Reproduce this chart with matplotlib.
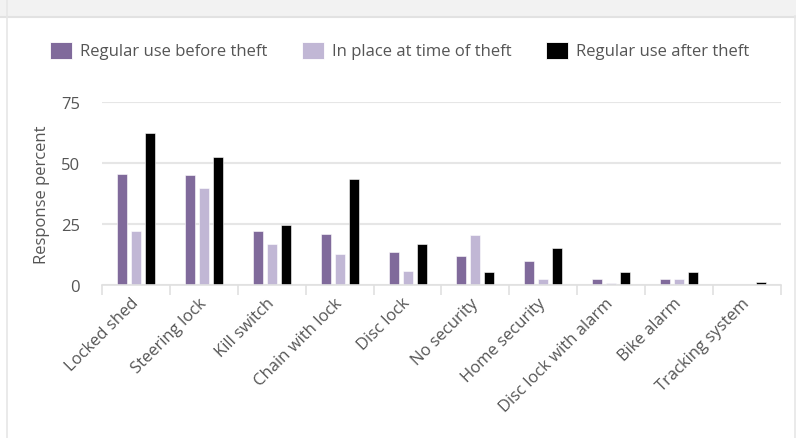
import numpy as np
import matplotlib
matplotlib.use("Agg")
from matplotlib import pyplot as plt
from matplotlib.patches import Rectangle

# data
categories = ["Locked shed", "Steering lock", "Kill switch", "Chain with lock", "Disc lock",
              "No security", "Home security", "Disc lock with alarm", "Bike alarm", "Tracking system"]
before_theft = [45.6, 45.0, 22.0, 20.9, 13.4, 11.8, 10.0, 2.3, 2.3, 0.0]
at_theft = [22.0, 39.8, 17.0, 12.9, 5.9, 20.5, 2.3, 0.8, 2.3, 0.0]
after_theft = [62.5, 52.4, 24.6, 43.4, 17.0, 5.3, 15.2, 5.3, 5.3, 1.2]
series_names = ["Regular use before theft", "In place at time of theft", "Regular use after theft"]
series_colors = ["#806a9b", "#c1b7d5", "#000000"]
y_ticks = [0, 25, 50, 75]

plt.rcParams['font.family'] = ['Open Sans', 'DejaVu Sans']
W, H = 796, 439
fs = 12
fig = plt.figure(figsize=(W / 100, H / 100), dpi=100)
fig.patch.set_facecolor("white")

def px(x, y, w, h):
    # pixel box (top-left origin) -> figure fraction
    return [x / W, 1 - (y + h) / H, w / W, h / H]

# header band and panel borders
fig.add_artist(Rectangle((0, 1 - 17 / H), 1, 17 / H, transform=fig.transFigure,
                         facecolor="#f2f2f2", edgecolor="none"))
fig.add_artist(plt.Line2D([0, 1], [1 - 17.5 / H] * 2, transform=fig.transFigure, color="#e2e2e2", lw=1.5))
fig.add_artist(plt.Line2D([7.5 / W] * 2, [0, 1], transform=fig.transFigure, color="#e6e6e6", lw=1.2))
fig.add_artist(plt.Line2D([795 / W] * 2, [0, 1 - 17 / H], transform=fig.transFigure, color="#e6e6e6", lw=1.2))

ax = fig.add_axes(px(102, 103.3, 679, 182.7))
x = np.arange(len(categories))
offset = 0.206
width = 0.148
for i, (vals, col) in enumerate(zip([before_theft, at_theft, after_theft], series_colors)):
    ax.bar(x + (i - 1) * offset, vals, width, color=col, edgecolor="white", linewidth=0.4, zorder=3)

ax.set_xlim(-0.5, len(categories) - 0.5)
ax.set_ylim(0, 75)
ax.set_yticks(y_ticks)
ax.yaxis.grid(True, color="#e6e6e6", lw=1.5, zorder=0)
ax.tick_params(axis="y", length=0, pad=16, labelsize=fs, labelcolor="#555555")
for s in ["top", "right", "left"]:
    ax.spines[s].set_visible(False)
ax.spines["bottom"].set_color("#e0e0e0")
ax.spines["bottom"].set_linewidth(1.2)
ax.spines["bottom"].set_zorder(4)

ax.set_xticks(x)
ax.set_xticklabels(categories, rotation=45, ha="right", rotation_mode="anchor")
ax.set_xticks(np.arange(len(categories) + 1) - 0.5, minor=True)
ax.tick_params(axis="x", which="major", length=0, pad=11, labelsize=fs, labelcolor="#555555")
ax.tick_params(axis="x", which="minor", length=7.5, width=1.2, color="#e0e0e0")
for lbl in ax.get_xticklabels():
    lbl.set_verticalalignment("center")

ax.set_ylabel("Response percent", fontsize=fs, color="#555555", labelpad=8)

# legend row
legend_x = [50, 302, 546]
for name, col, lx in zip(series_names, series_colors, legend_x):
    fig.add_artist(Rectangle((lx / W, 1 - 60 / H), 22 / W, 17 / H, transform=fig.transFigure,
                             facecolor=col, edgecolor="white", lw=0.6))
    fig.text((lx + 30) / W, 1 - 52 / H, name, fontsize=fs, color="#555555", va="center", ha="left")

fig.savefig("out.png", dpi=100, facecolor="white")
